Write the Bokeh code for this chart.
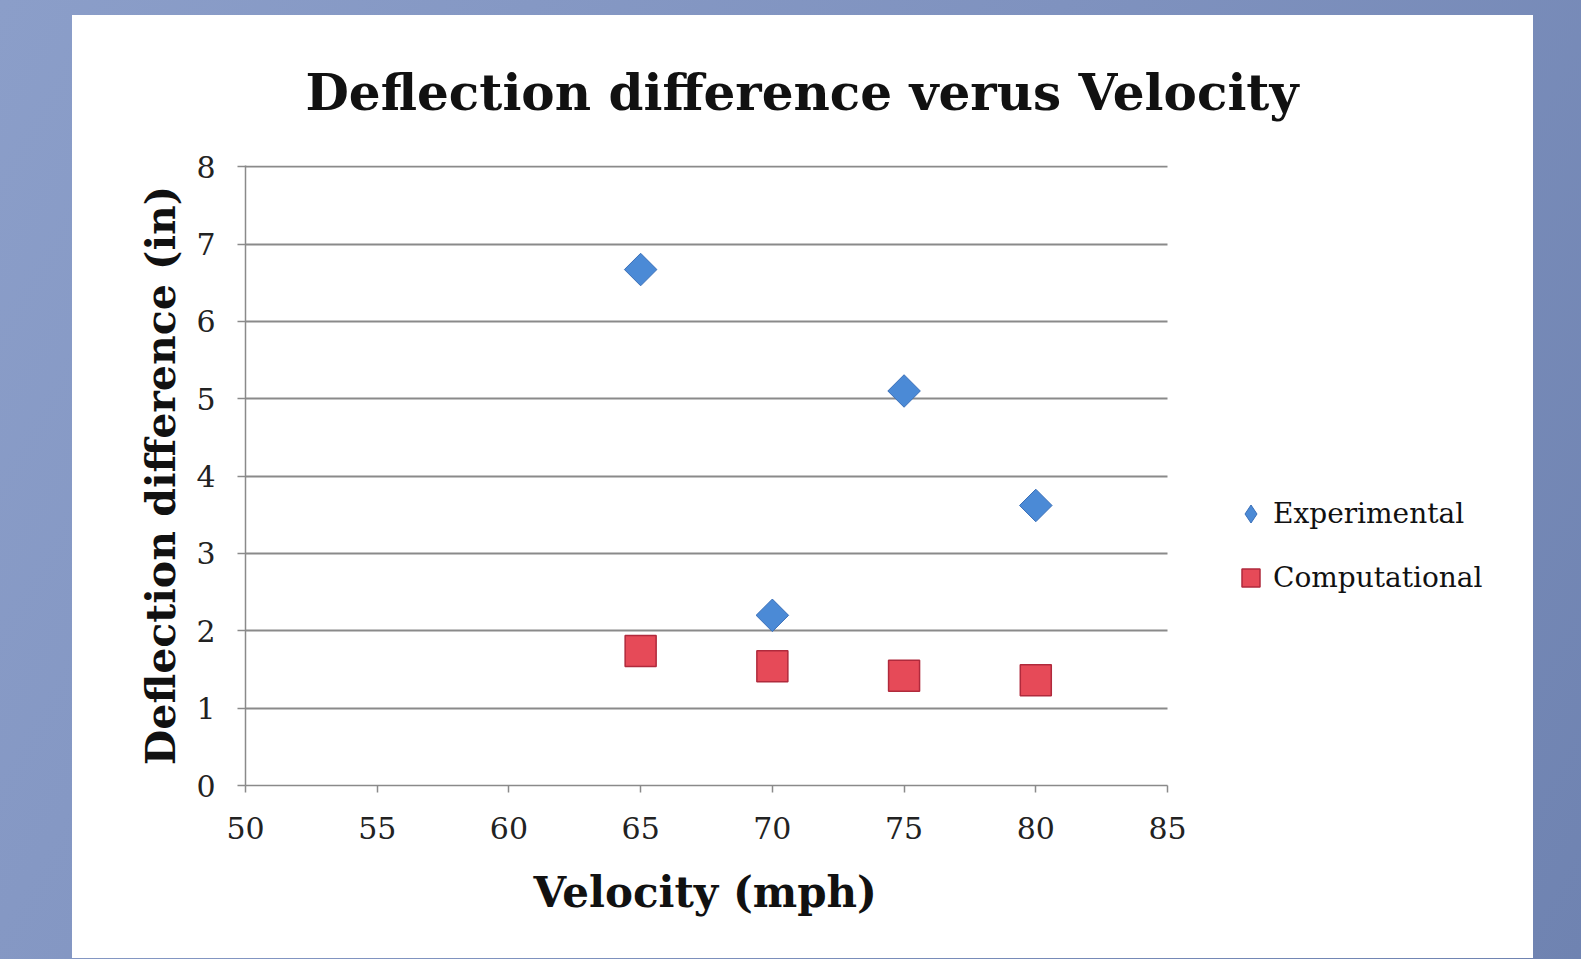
import numpy as np
from bokeh.plotting import figure
from bokeh.models import Legend, LegendItem, FixedTicker, BoxAnnotation, Grid, Title
from bokeh.embed import file_html
from bokeh.resources import INLINE

# ---- data ----
velocity = [65, 70, 75, 80]
experimental = [6.67, 2.20, 5.10, 3.62]
computational = [1.74, 1.54, 1.42, 1.36]
x_ticks = [50, 55, 60, 65, 70, 75, 80, 85]
y_ticks = [0, 1, 2, 3, 4, 5, 6, 7, 8]
x_axis_span = (50, 85)

SERIF = "DejaVu Serif"
GRID = "#8a8a8a"
BLUE_FILL, BLUE_LINE = "#4b8ad6", "#3a6fb8"
RED_FILL, RED_LINE = "#e64a58", "#b02a3c"

# layout (pixels)
W, H = 1461, 943
BL, BR, BT, BB = 173, 10, 150, 173
AXIS_PX = 922                      # pixel length of the 50..85 axis
frame_w = W - BL - BR
x_end = x_axis_span[0] + frame_w * (x_axis_span[1] - x_axis_span[0]) / AXIS_PX

p = figure(width=W, height=H, x_range=(x_axis_span[0], x_end), y_range=(0, 8.015),
           output_backend="svg", toolbar_location=None,
           margin=(15, 0, 0, 72),
           min_border_left=BL, min_border_right=BR,
           min_border_top=BT, min_border_bottom=BB)
p.styles = {"background-color": "white"}
p.background_fill_color = "white"
p.border_fill_color = "white"
p.outline_line_color = None

p.title.text = "Deflection difference verus Velocity"
p.title.align = "left"
p.title.offset = 60
p.title.text_font = SERIF
p.title.text_font_size = "50px"
p.title.text_font_style = "bold"
p.title.text_color = "#111111"
p.title.standoff = 87

p.xaxis.ticker = FixedTicker(ticks=x_ticks)
p.yaxis.ticker = FixedTicker(ticks=y_ticks)
p.xaxis.bounds = x_axis_span
for ax in (p.xaxis, p.yaxis):
    ax.axis_line_color = GRID
    ax.axis_line_width = 1.5
    ax.major_tick_line_color = GRID
    ax.major_tick_line_width = 1.5
    ax.major_tick_in = 0
    ax.minor_tick_line_color = None
    ax.major_label_text_font = SERIF
    ax.major_label_text_font_size = "30px"
    ax.major_label_text_color = "#222222"
    ax.axis_label_text_font = SERIF
    ax.axis_label_text_font_style = "bold"
    ax.axis_label_text_color = "#111111"
p.yaxis.axis_label_text_font_size = "41px"
p.xaxis.major_tick_out = 7
p.yaxis.major_tick_out = 8
p.xaxis.major_label_standoff = 24
p.yaxis.major_label_standoff = 22
p.yaxis.axis_label = "Deflection difference (in)"
p.yaxis.axis_label_standoff = 8

# x-axis title, centred under the 50..85 axis
x_title = Title(text="Velocity (mph)", align="left", offset=288,
                text_font=SERIF, text_font_size="42px", text_font_style="bold",
                text_color="#111111", vertical_align="top", standoff=52)
p.add_layout(x_title, "below")

p.xgrid.visible = False
p.ygrid.grid_line_color = GRID
p.ygrid.grid_line_width = 1.8

masked = False
if "cross_bounds" in Grid.properties():
    p.ygrid.cross_bounds = x_axis_span
    masked = True

r_exp = p.scatter(velocity, experimental, marker="square", angle=np.pi / 4,
                  size=23, fill_color=BLUE_FILL, line_color=BLUE_LINE, line_width=1)
r_comp = p.scatter(velocity, computational, marker="square", size=31,
                   fill_color=RED_FILL, line_color=RED_LINE, line_width=1.5)
# legend swatch for the diamonds (the legend does not rotate markers)
r_exp_key = p.scatter(velocity, experimental, marker="diamond", visible=False,
                      fill_color=BLUE_FILL, line_color=BLUE_LINE, line_width=1)

if not masked:
    p.add_layout(BoxAnnotation(left=x_axis_span[1], fill_color="white", fill_alpha=1,
                               line_color=None))

legend = Legend(items=[LegendItem(label="Experimental", renderers=[r_exp_key]),
                       LegendItem(label="Computational", renderers=[r_comp])],
                location=(983, 180), orientation="vertical",
                glyph_width=45, glyph_height=55, label_height=55,
                spacing=9, padding=0, margin=0, label_standoff=0,
                inactive_fill_alpha=0,
                border_line_color=None, background_fill_alpha=0,
                label_text_font=SERIF, label_text_font_size="28px",
                label_text_color="#111111")
p.add_layout(legend)

html = file_html(p, INLINE)
style = ("<style>html{min-height:100%;background:linear-gradient(120deg,#8b9ec9 0%,#7f92bf 50%,#6f83b1 100%);}"
         "body{background:transparent;}</style>")
html = html.replace("</head>", style + "</head>", 1)
open("out.html", "w").write(html)
